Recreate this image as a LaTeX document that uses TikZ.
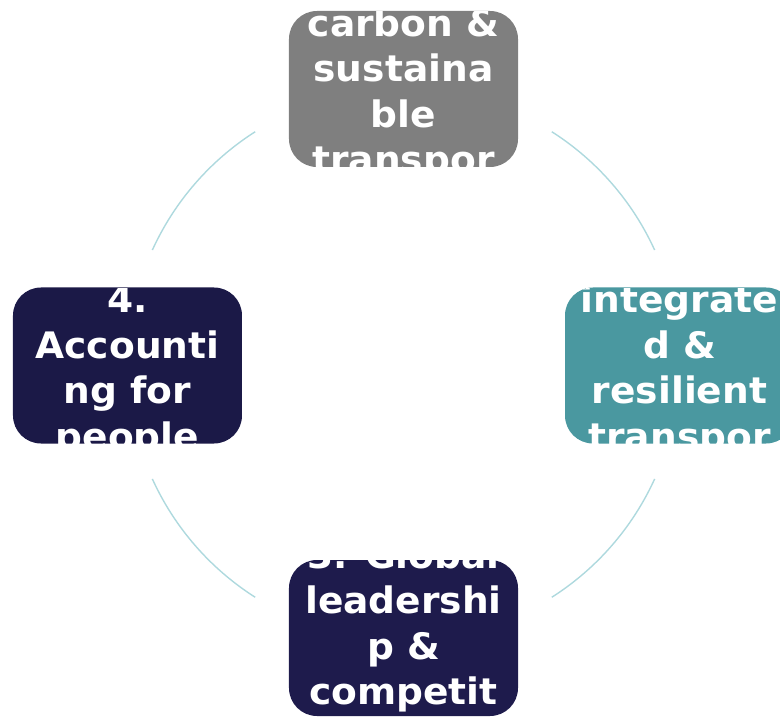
\documentclass[tikz,border=0pt]{standalone}
\usepackage{fontspec}
\setmainfont[FakeStretch=1.03]{DejaVu Sans}
\definecolor{boxgray}{HTML}{7F7F7F}
\definecolor{boxteal}{HTML}{4A98A0}
\definecolor{boxnavy}{HTML}{1B1947}
\definecolor{boxindigo}{HTML}{1E1B4C}
\definecolor{ringblue}{HTML}{AED9DE}
\tikzset{
  ring/.style={draw=ringblue,line width=1.4bp},
  goalbox/.style={rectangle,rounded corners=28bp,minimum width=229bp,minimum height=156bp,inner sep=0pt},
  goaltext/.style={text=white,align=center,inner sep=0pt,anchor=north,
    font=\fontsize{36.6}{45.7}\selectfont\bfseries}
}
\begin{document}
\begin{tikzpicture}[x=1bp,y=1bp]
  \useasboundingbox (-403.5,-353.5) rectangle (376.5,364.5);
  \clip (-403.5,-353.5) rectangle (376.5,364.5);
  \coordinate (c) at (0,0);

  % the four boxes
  \begin{scope}[every node/.style={goalbox}]
    \node[fill=boxgray] (carbon) at (0,275.5) {};
    \node[fill=boxteal] (resilient) at (276,-1) {};
    \node[fill=boxindigo] (leader) at (0,-273.5) {};
    \node[fill=boxnavy] (people) at (-276,-1) {};
  \end{scope}

  % texts, cut off at the box edge
  \begin{scope}
    \clip[rounded corners=28bp] (carbon.south west) rectangle (carbon.north east);
    \node[goaltext] (carbontext) at ([yshift=85bp]carbon.center) {\strut carbon \&\\sustaina\\ble\\transpor};
  \end{scope}
  \begin{scope}
    \clip[rounded corners=28bp] (resilient.south west) rectangle (resilient.north east);
    \node[goaltext] (resilienttext) at ([yshift=85bp]resilient.center) {\strut integrate\\d \&\\resilient\\transpor};
  \end{scope}
  \begin{scope}
    \clip[rounded corners=28bp] (leader.south west) rectangle (leader.north east);
    \node[goaltext] (leadertext) at ([yshift=102bp]leader.center) {\strut 3. Global\\leadershi\\p \&\\competit};
  \end{scope}
  \begin{scope}
    \clip[rounded corners=28bp] (people.south west) rectangle (people.north east);
    \node[goaltext] (peopletext) at ([yshift=85bp]people.center) {\strut 4.\\Accounti\\ng for\\people};
  \end{scope}

  % ring between the boxes
  \foreach \a in {24.5,122.5,204.5,302.5}
    \draw[ring] ([shift={(\a:276bp)}]c) arc[start angle=\a, end angle=\a+33, radius=276bp];
\end{tikzpicture}
\end{document}
